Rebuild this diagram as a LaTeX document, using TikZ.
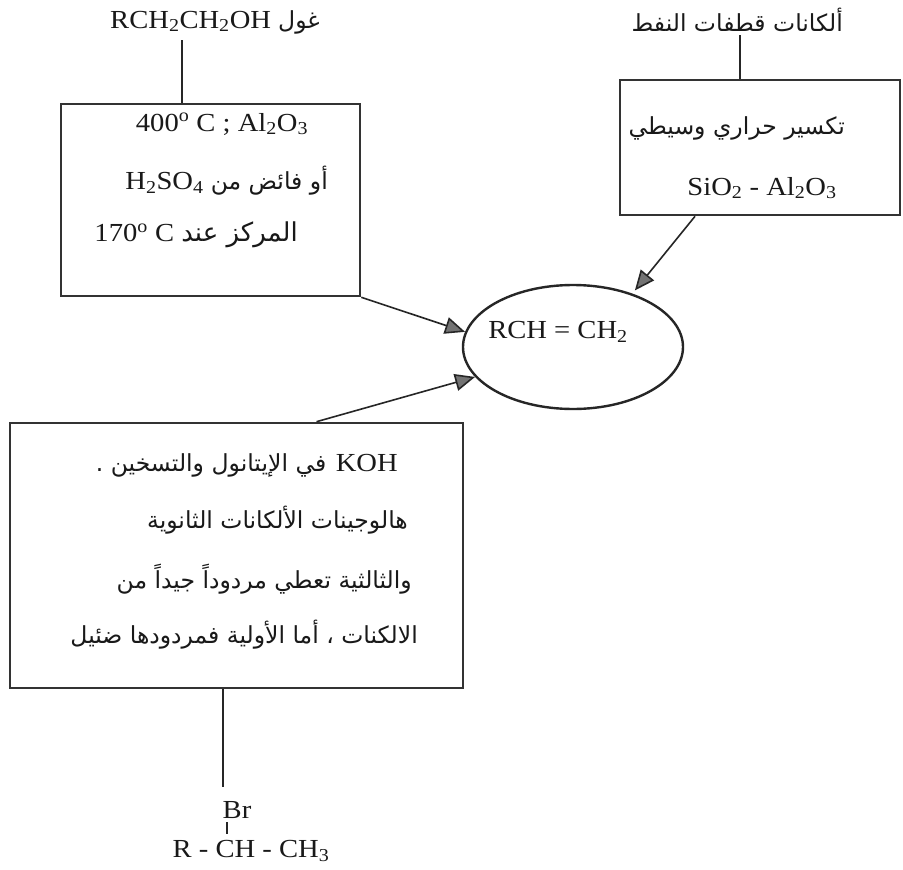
\documentclass[tikz,border=0pt]{standalone}
\usepackage{fontspec}
\setmainfont{Liberation Serif}[FakeStretch=1.1]
\newfontfamily\arabicfont[Script=Arabic]{DejaVu Sans}
\TeXXeTstate=1
\usetikzlibrary{shapes.geometric,arrows.meta}

% Latin chemistry text and right-to-left Arabic runs
\newcommand\lat{\fontsize{26}{30}\selectfont}
\newcommand\artxt[2][23.5]{{\arabicfont\fontsize{#1}{#1}\selectfont\beginR #2\endR}}

\begin{document}
\begin{tikzpicture}[x=1pt,y=-1pt,
  box/.style={draw=black!80, line width=2.6pt, rectangle, inner sep=0, fill=none},
  txt/.style={inner sep=0, font=\lat, text=black!90},
  link/.style={draw=black!85, line width=1.6pt},
  arr/.style={draw=black!85, line width=1.6pt,
    -{Triangle[length=20pt,width=17pt,fill=black!55]}},
]
\useasboundingbox (0,0) rectangle (903,870);
\fill[white] (0,0) rectangle (903,870);

% starting materials
\node[txt, anchor=west] (alc) at (110,22) {RCH\textsubscript{2}CH\textsubscript{2}OH \artxt{غول}};
\node[txt, anchor=east] (pet) at (843,20) {\artxt{ألكانات قطفات النفط}};

% condition boxes
\node[box, minimum width=299pt, minimum height=192pt] (b1) at (210.5,200) {};
\node[box, minimum width=280pt, minimum height=135pt] (b2) at (760,147.5) {};
\node[box, minimum width=453pt, minimum height=265pt] (b3) at (236.5,555.5) {};

% dehydration of the alcohol
\node[txt] (b1a) at (222,124) {400\textsuperscript{o} C ; Al\textsubscript{2}O\textsubscript{3}};
\node[txt, anchor=east] (b1b) at (328,181) {H\textsubscript{2}SO\textsubscript{4} \artxt{أو فائض من}};
\node[txt, anchor=east] (b1c) at (298,235) {170\textsuperscript{o} C \artxt[26]{المركز عند}};

% catalytic cracking
\node[txt, anchor=east] (b2a) at (845,128) {\artxt{تكسير حراري وسيطي}};
\node[txt] (b2b) at (762,188) {SiO\textsubscript{2} - Al\textsubscript{2}O\textsubscript{3}};

% dehydrohalogenation
\node[txt, anchor=east] (b3a) at (398,465) {\artxt{في الإيتانول والتسخين .} KOH};
\node[txt, anchor=east] (b3b) at (408,520) {\artxt{هالوجينات الألكانات الثانوية}};
\node[txt, anchor=east] (b3c) at (412,579) {\artxt{والثالثية تعطي مردوداً جيداً من}};
\node[txt, anchor=east] (b3d) at (418,635) {\artxt{الالكنات ، أما الأولية فمردودها ضئيل}};

% product
\node[ellipse, draw=black!85, line width=2.4pt, minimum width=220pt, minimum height=124pt, inner sep=0] (rch) at (573,347) {};
\node[txt] (rcht) at (558,332) {RCH = CH\textsubscript{2}};

% secondary halide
\node[txt] (br) at (237,810) {Br};
\node[txt] (hal) at (251,851) {R - CH - CH\textsubscript{3}};
\coordinate (bondtop) at (227,822);
\coordinate (bondbot) at (227,834);
\draw[link, line width=2.4pt] (bondtop) -- (bondbot);

% plain links from the starting materials
\coordinate (t1) at (182,40);
\coordinate (t2) at (740,35);
\coordinate (t3) at (223,787);
\draw[link] (t1) -- (t1 |- b1.north);
\draw[link] (t2) -- (t2 |- b2.north);
\draw[link] (t3 |- b3.south) -- (t3);

% arrows into the alkene
\draw[arr] (b1.south east) -- (rch.172);
\draw[arr, shorten >=4pt] ([xshift=-65pt]b2.south) -- (rch.42);
\draw[arr] ([xshift=80pt]b3.north) -- (rch.197);
\end{tikzpicture}
\end{document}
